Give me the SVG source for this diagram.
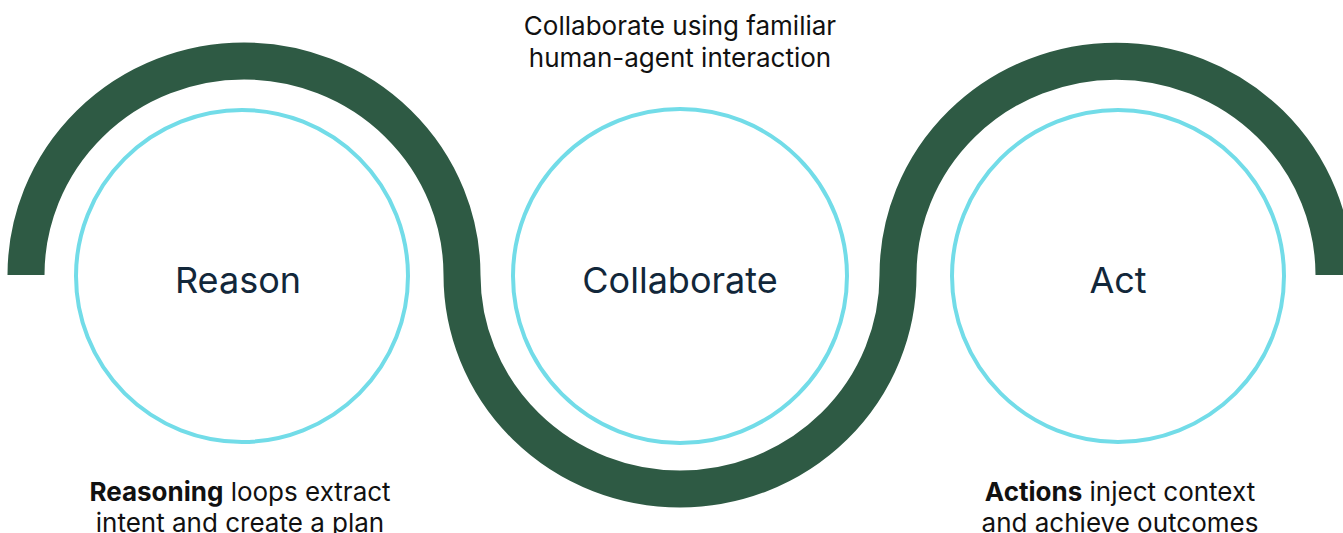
<svg xmlns="http://www.w3.org/2000/svg" width="1343" height="533" viewBox="0 0 1343 533">
<style>
.band{fill:none;stroke:#2E5A44;stroke-width:37;stroke-linecap:butt}
.ring{fill:none;stroke:#72DCE8;stroke-width:4}
.lbl{font-family:Inter,"Liberation Sans",sans-serif;font-size:36px;fill:#12273A;text-anchor:middle}
.cap{font-family:Inter,"Liberation Sans",sans-serif;font-size:26px;fill:#111111;text-anchor:middle}
.b{font-weight:700}
</style>
<rect width="1343" height="533" fill="#ffffff"/>
<g id="connectors">
<path class="band" d="M 26 275 A 218 214 0 0 1 462 275 A 218 214 0 0 0 898 275 A 218 214 0 0 1 1334 275"/>
</g>
<g id="reason">
<circle class="ring" cx="242" cy="276" r="166"/>
<text class="lbl" x="238" y="293">Reason</text>
</g>
<g id="collaborate">
<circle class="ring" cx="680" cy="276" r="167"/>
<text class="lbl" x="680" y="293">Collaborate</text>
</g>
<g id="act">
<circle class="ring" cx="1118" cy="276" r="166"/>
<text class="lbl" x="1118" y="293">Act</text>
</g>
<g id="caption-collaborate">
<text class="cap" x="680" y="35">Collaborate using familiar</text>
<text class="cap" x="680" y="67">human-agent interaction</text>
</g>
<g id="caption-reason">
<text class="cap" x="240" y="501"><tspan class="b">Reasoning</tspan> loops extract</text>
<text class="cap" x="240" y="532">intent and create a plan</text>
</g>
<g id="caption-act">
<text class="cap" x="1120" y="501"><tspan class="b">Actions</tspan> inject context</text>
<text class="cap" x="1120" y="532">and achieve outcomes</text>
</g>
</svg>
